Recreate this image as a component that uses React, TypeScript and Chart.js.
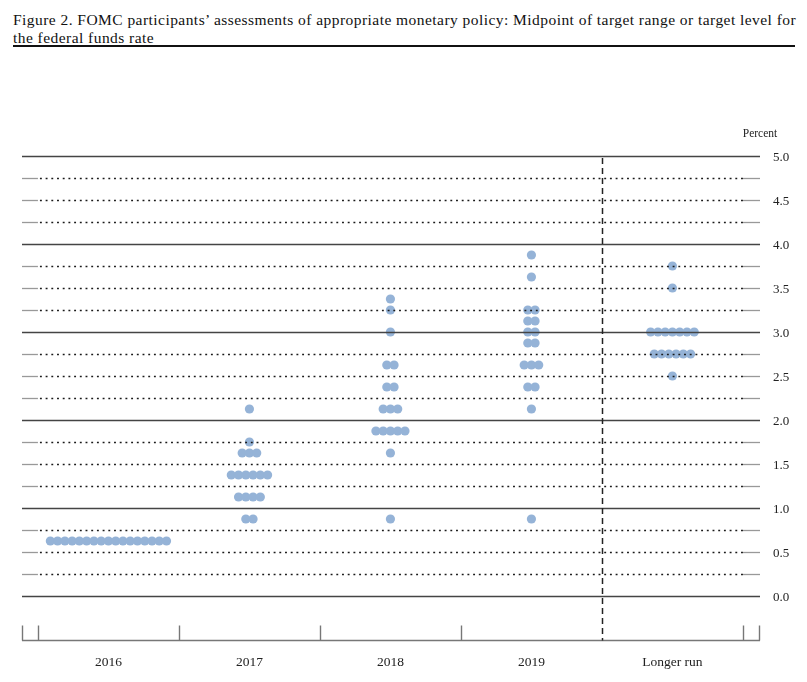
import React, { useEffect, useRef } from "react";
import { Chart, registerables } from "chart.js";

Chart.register(...registerables);

// ---- Data ----
const categories = ["2016", "2017", "2018", "2019", "Longer run"];

const rates2016 = [0.625];
const counts2016 = [17];

const rates2017 = [2.125, 1.75, 1.625, 1.375, 1.125, 0.875];
const counts2017 = [1, 1, 3, 6, 4, 2];

const rates2018 = [3.375, 3.25, 3.0, 2.625, 2.375, 2.125, 1.875, 1.625, 0.875];
const counts2018 = [1, 1, 1, 2, 2, 3, 5, 1, 1];

const rates2019 = [3.875, 3.625, 3.25, 3.125, 3.0, 2.875, 2.625, 2.375, 2.125, 0.875];
const counts2019 = [1, 1, 2, 2, 2, 2, 3, 2, 1, 1];

const ratesLongerRun = [3.75, 3.5, 3.0, 2.75, 2.5];
const countsLongerRun = [1, 1, 7, 6, 1];

const gridValues = [0, 0.25, 0.5, 0.75, 1, 1.25, 1.5, 1.75, 2, 2.25, 2.5, 2.75, 3, 3.25, 3.5, 3.75, 4, 4.25, 4.5, 4.75, 5];
const yLabelValues = [0, 0.5, 1, 1.5, 2, 2.5, 3, 3.5, 4, 4.5, 5];
const yLabels = ["0.0", "0.5", "1.0", "1.5", "2.0", "2.5", "3.0", "3.5", "4.0", "4.5", "5.0"];

const titleLine1 = "Figure 2. FOMC participants\u2019 assessments of appropriate monetary policy: Midpoint of target range or target level for";
const titleLine2 = "the federal funds rate";
const unitLabel = "Percent";

const columns = [
  { rates: rates2016, counts: counts2016 },
  { rates: rates2017, counts: counts2017 },
  { rates: rates2018, counts: counts2018 },
  { rates: rates2019, counts: counts2019 },
  { rates: ratesLongerRun, counts: countsLongerRun },
];

const DOT_COLOR = "#95b3d7";
const DOT_SPACING = 0.0515; // horizontal spacing of stacked dots, in category units
const X_MIN = -0.113;
const X_MAX = 5.121;
const Y_MIN = -0.5;
const Y_MAX = 5.0;
const FONT = "'Liberation Serif', 'DejaVu Serif', serif";

function buildPoints(rates: number[], counts: number[], colIndex: number) {
  const pts: { x: number; y: number }[] = [];
  rates.forEach((r, i) => {
    const n = counts[i];
    for (let k = 0; k < n; k++) {
      pts.push({ x: colIndex + 0.5 + (k - (n - 1) / 2) * DOT_SPACING, y: r });
    }
  });
  return pts;
}

const dotPlotPlugin = {
  id: "dotPlotFrame",
  afterDatasetsDraw(chart: any) {
    const { ctx, chartArea: ca, scales } = chart;
    const x = scales.x;
    const y = scales.y;
    const xL = ca.left;
    const xR = ca.right;
    const xStart = x.getPixelForValue(0);
    const xEnd = x.getPixelForValue(categories.length);
    const line = (x1: number, y1: number, x2: number, y2: number) => {
      ctx.beginPath();
      ctx.moveTo(x1, y1);
      ctx.lineTo(x2, y2);
      ctx.stroke();
    };
    ctx.save();
    // horizontal grid lines
    for (const v of gridValues) {
      const py = Math.round(y.getPixelForValue(v)) + 0.5;
      if (Number.isInteger(v)) {
        ctx.setLineDash([]);
        ctx.strokeStyle = "#444";
        ctx.lineWidth = 1.4;
        line(xL, py, xR, py);
      } else {
        ctx.setLineDash([]);
        ctx.strokeStyle = "#999";
        ctx.lineWidth = 1.3;
        line(xL, py, xStart, py);
        line(xEnd, py, xR, py);
        ctx.setLineDash([1.9, 3.8]);
        ctx.strokeStyle = "#1a1a1a";
        ctx.lineWidth = 1.7;
        line(xStart + 2, py, xEnd, py);
      }
    }
    // y labels
    ctx.setLineDash([]);
    ctx.fillStyle = "#222";
    ctx.font = `13px ${FONT}`;
    ctx.textAlign = "left";
    ctx.textBaseline = "alphabetic";
    yLabelValues.forEach((v, i) => {
      const py = y.getPixelForValue(v);
      ctx.fillText(yLabels[i], xR + 13, py + 4.5);
    });
    // unit label
    ctx.font = `11.5px ${FONT}`;
    ctx.textAlign = "center";
    ctx.fillText(unitLabel, xR, y.getPixelForValue(Y_MAX) - 19);

    // bottom axis
    const pyB = Math.round(y.getPixelForValue(Y_MIN)) + 0.5;
    ctx.strokeStyle = "#777";
    ctx.lineWidth = 1.4;
    line(xL, pyB, xR, pyB);
    const tickXs = [X_MIN, 0, 1, 2, 3, 5, X_MAX];
    tickXs.forEach((tv) => {
      let px = Math.round(x.getPixelForValue(tv)) + 0.5;
      if (tv === X_MIN) px = xL + 0.5;
      if (tv === X_MAX) px = xR - 0.5;
      line(px, pyB, px, pyB - 15);
    });
    // dashed separator before longer run
    const pxD = Math.round(x.getPixelForValue(4)) + 0.5;
    ctx.strokeStyle = "#222";
    ctx.lineWidth = 1.5;
    ctx.setLineDash([6, 4]);
    line(pxD, y.getPixelForValue(Y_MAX) + 2, pxD, pyB);
    ctx.setLineDash([]);

    // category labels
    ctx.fillStyle = "#222";
    ctx.font = `13.5px ${FONT}`;
    ctx.textAlign = "center";
    categories.forEach((c, i) => {
      ctx.fillText(c, x.getPixelForValue(i + 0.5), pyB + 25);
    });
    ctx.restore();
  },
};

export default function App() {
  const canvasRef = useRef<HTMLCanvasElement | null>(null);

  useEffect(() => {
    if (!canvasRef.current) return;
    const datasets = columns.map((col, i) => ({
      label: categories[i],
      data: buildPoints(col.rates, col.counts, i),
      backgroundColor: DOT_COLOR,
      borderWidth: 0,
      pointRadius: 4.6,
      pointHoverRadius: 4.6,
    }));
    const chart = new Chart(canvasRef.current, {
      type: "scatter",
      data: { datasets },
      options: {
        animation: false,
        responsive: false,
        devicePixelRatio: 1,
        events: [],
        layout: { padding: { left: 22, top: 156, right: 47, bottom: 42 } },
        plugins: { legend: { display: false }, tooltip: { enabled: false }, title: { display: false } },
        scales: {
          x: { type: "linear", min: X_MIN, max: X_MAX, display: false },
          y: { type: "linear", min: Y_MIN, max: Y_MAX, display: false },
        },
      },
      plugins: [dotPlotPlugin],
    });
    return () => chart.destroy();
  }, []);

  return (
    <div style={{ position: "fixed", left: 0, top: 0, width: 807, height: 682, background: "#fff" }}>
      <div
        style={{
          position: "absolute",
          left: 13,
          top: 11,
          width: 794,
          fontFamily: FONT,
          fontSize: 15.5,
          letterSpacing: "0.45px",
          lineHeight: "18px",
          color: "#111",
          whiteSpace: "nowrap",
        }}
      >
        <div>{titleLine1}</div>
        <div>{titleLine2}</div>
      </div>
      <div style={{ position: "absolute", left: 13, top: 45, width: 782, height: 2, background: "#111" }} />
      <canvas ref={canvasRef} width={807} height={682} style={{ position: "absolute", left: 0, top: 0, width: 807, height: 682 }} />
    </div>
  );
}
